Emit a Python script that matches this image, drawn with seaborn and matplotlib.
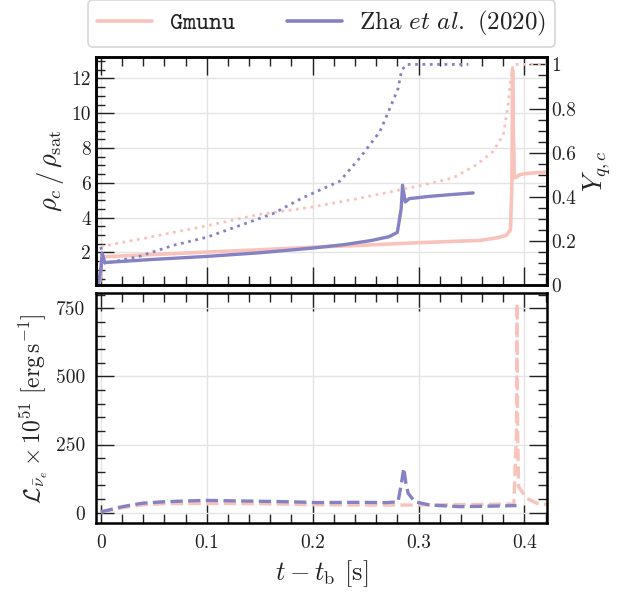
import numpy as np
import pandas as pd
import matplotlib
matplotlib.use("Agg")
import matplotlib.pyplot as plt
import seaborn as sns
from matplotlib.ticker import MultipleLocator, FuncFormatter
from matplotlib.lines import Line2D

# ---------------- data ----------------
# Gmunu: central density ratio (solid, left axis)
gm_rho_t = [-0.001, 0.0005, 0.002, 0.05, 0.1, 0.15, 0.2, 0.25, 0.3, 0.34, 0.358, 0.375,
            0.383, 0.3868, 0.3882, 0.3888, 0.3895, 0.3905, 0.392, 0.395, 0.40, 0.41, 0.421]
gm_rho = [0.3, 1.5, 1.75, 1.88, 2.02, 2.15, 2.3, 2.42, 2.56, 2.65, 2.69, 2.85,
          2.98, 3.3, 6.0, 12.5, 9.0, 6.3, 6.3, 6.45, 6.52, 6.58, 6.62]
# Gmunu: central quark fraction (dotted, right axis)
gm_yq_t = [0.0, 0.05, 0.1, 0.15, 0.2, 0.25, 0.3, 0.333, 0.355, 0.37, 0.38, 0.3846,
           0.387, 0.3893, 0.40, 0.421]
gm_yq = [0.176, 0.222, 0.27, 0.322, 0.355, 0.40, 0.45, 0.487, 0.547, 0.605, 0.68, 0.816,
         0.936, 1.0, 1.0, 1.0]
# Zha et al. (2020): central density ratio
zh_rho_t = [-0.0025, 0.0005, 0.0013, 0.0038, 0.05, 0.1, 0.15, 0.2, 0.23, 0.255, 0.272,
            0.28, 0.2836, 0.2849, 0.2875, 0.2912, 0.3, 0.31, 0.33, 0.3516]
zh_rho = [0.1, 1.2, 1.95, 1.42, 1.6, 1.77, 1.98, 2.25, 2.45, 2.68, 2.9,
          3.15, 4.5, 5.86, 4.9, 5.09, 5.15, 5.22, 5.32, 5.42]
# Zha et al. (2020): central quark fraction
zh_yq_t = [0.0, 0.0038, 0.02, 0.0368, 0.068, 0.1, 0.14, 0.163, 0.19, 0.207, 0.2257,
           0.2446, 0.2635, 0.2729, 0.2807, 0.284, 0.2887, 0.3, 0.347]
zh_yq = [0.174, 0.10, 0.115, 0.132, 0.181, 0.218, 0.286, 0.326, 0.395, 0.432, 0.472,
         0.577, 0.696, 0.801, 0.891, 0.973, 1.0, 1.0, 1.0]
# anti-electron neutrino luminosity (dashed), units of 1e51 erg/s
gm_lum_t = [0.0, 0.02, 0.04, 0.06, 0.1, 0.15, 0.2, 0.25, 0.3, 0.35, 0.39, 0.3925,
            0.3931, 0.3936, 0.3945, 0.3957, 0.402, 0.4114, 0.421]
gm_lum = [2, 18, 29, 33, 34, 33, 29, 28, 28, 30, 32, 300,
          768, 300, 95, 88, 53, 35, 30]
zh_lum_t = [0.0, 0.01, 0.018, 0.03, 0.04, 0.06, 0.081, 0.1, 0.131, 0.178, 0.2037, 0.24,
            0.27, 0.2807, 0.2835, 0.2861, 0.288, 0.2902, 0.2965, 0.3107, 0.339, 0.37, 0.3925]
zh_lum = [3, 12, 20, 29, 35, 40, 43, 45, 43, 40, 37, 38,
          37, 40, 100, 163, 110, 71, 40, 28, 22, 24, 26]

labels = [r"$\mathtt{Gmunu}$", r"Zha $et\ al.$ (2020)"]
colors = ["#F8C3BB", "#8582C3"]

# ---------------- style ----------------
sns.set_theme(style="ticks")
plt.rcParams.update({
    "font.family": "serif",
    "font.serif": ["cmr10"],
    "mathtext.fontset": "cm",
    "axes.formatter.use_mathtext": True,
    "axes.unicode_minus": False,
    "text.color": "#222222",
    "axes.labelcolor": "#222222",
    "xtick.color": "#222222",
    "ytick.color": "#222222",
    "axes.edgecolor": "black",
})

fig = plt.figure(figsize=(6.32, 6.01), dpi=100)
L, W = 0.1519, 0.7131
ax1 = fig.add_axes([L, 0.525, W, 0.3807])
ax3 = fig.add_axes([L, 0.1293, W, 0.3827], sharex=ax1)
ax2 = ax1.twinx()

def line(ax, t, v, c, ls, lw):
    df = pd.DataFrame({"t": t, "v": v})
    sns.lineplot(data=df, x="t", y="v", ax=ax, color=c, linestyle=ls, lw=lw,
                 sort=False, estimator=None, legend=False)

# top panel
line(ax1, gm_rho_t, gm_rho, colors[0], "-", 2.6)
line(ax1, zh_rho_t, zh_rho, colors[1], "-", 2.4)
line(ax2, gm_yq_t, gm_yq, colors[0], ":", 2.0)
line(ax2, zh_yq_t, zh_yq, colors[1], ":", 2.0)
# bottom panel
line(ax3, gm_lum_t, gm_lum, colors[0], "--", 2.4)
line(ax3, zh_lum_t, zh_lum, colors[1], "--", 2.4)

ax1.set_xlim(-0.0045, 0.421)
ax1.set_ylim(0.1, 13.25)
ax2.set_ylim(0.0, 1.035)
ax3.set_ylim(-39, 805)

gkw = dict(color="#e4e4e4", lw=1.0)
ax1.grid(True, which="major", **gkw)
ax3.grid(True, which="major", **gkw)
ax1.set_axisbelow(True)
ax3.set_axisbelow(True)

ax1.xaxis.set_major_locator(MultipleLocator(0.1))
ax1.xaxis.set_minor_locator(MultipleLocator(0.02))
ax1.yaxis.set_major_locator(MultipleLocator(2))
ax1.yaxis.set_minor_locator(MultipleLocator(0.5))
ax2.yaxis.set_major_locator(MultipleLocator(0.2))
ax2.yaxis.set_minor_locator(MultipleLocator(0.05))
ax3.yaxis.set_major_locator(MultipleLocator(250))
ax3.yaxis.set_minor_locator(MultipleLocator(50))
fmt = FuncFormatter(lambda v, p: "%g" % round(v, 6))
ax3.xaxis.set_major_formatter(fmt)
ax2.yaxis.set_major_formatter(fmt)
ax1.yaxis.set_major_formatter(fmt)
ax3.yaxis.set_major_formatter(fmt)

maj, mnr = 13, 6.5
ax1.tick_params(which="both", direction="in", top=True, bottom=True, left=True,
                right=False, labelbottom=False, labelsize=14, width=1.0)
ax2.tick_params(which="both", direction="in", right=True, labelsize=14, width=1.0)
ax3.tick_params(which="both", direction="in", top=True, bottom=True, left=True,
                right=True, labelsize=14, width=1.0, pad=8)
for a in (ax1, ax2, ax3):
    a.tick_params(which="major", length=maj)
    a.tick_params(which="minor", length=mnr)
    for s in a.spines.values():
        s.set_linewidth(1.8)
        s.set_color("black")

ax1.set_xlabel("")
ax2.set_xlabel("")
ax1.set_ylabel(r"$\rho_c\,/\,\rho_{\rm sat}$", fontsize=19)
ax2.set_ylabel(r"$Y_{q,c}$", fontsize=19)
ax3.set_ylabel(r"$\mathcal{L}_{\bar{\nu}_e}\times 10^{51}\ [\mathrm{erg\,s^{-1}}]$", fontsize=17)
ax3.set_xlabel(r"$t - t_{\rm b}$ [s]", fontsize=19)
fig.align_ylabels([ax1, ax3])

handles = [Line2D([], [], color=colors[0], lw=2.6),
           Line2D([], [], color=colors[1], lw=2.6)]
leg = fig.legend(handles, labels, loc="center", bbox_to_anchor=(0.509, 0.961), ncol=2,
                 fontsize=18, frameon=True, fancybox=True, edgecolor="#cccccc",
                 handlelength=2.2, columnspacing=2.0, handletextpad=0.7, borderpad=0.35)
leg.get_frame().set_linewidth(1.2)

fig.savefig("out.png", dpi=100)
